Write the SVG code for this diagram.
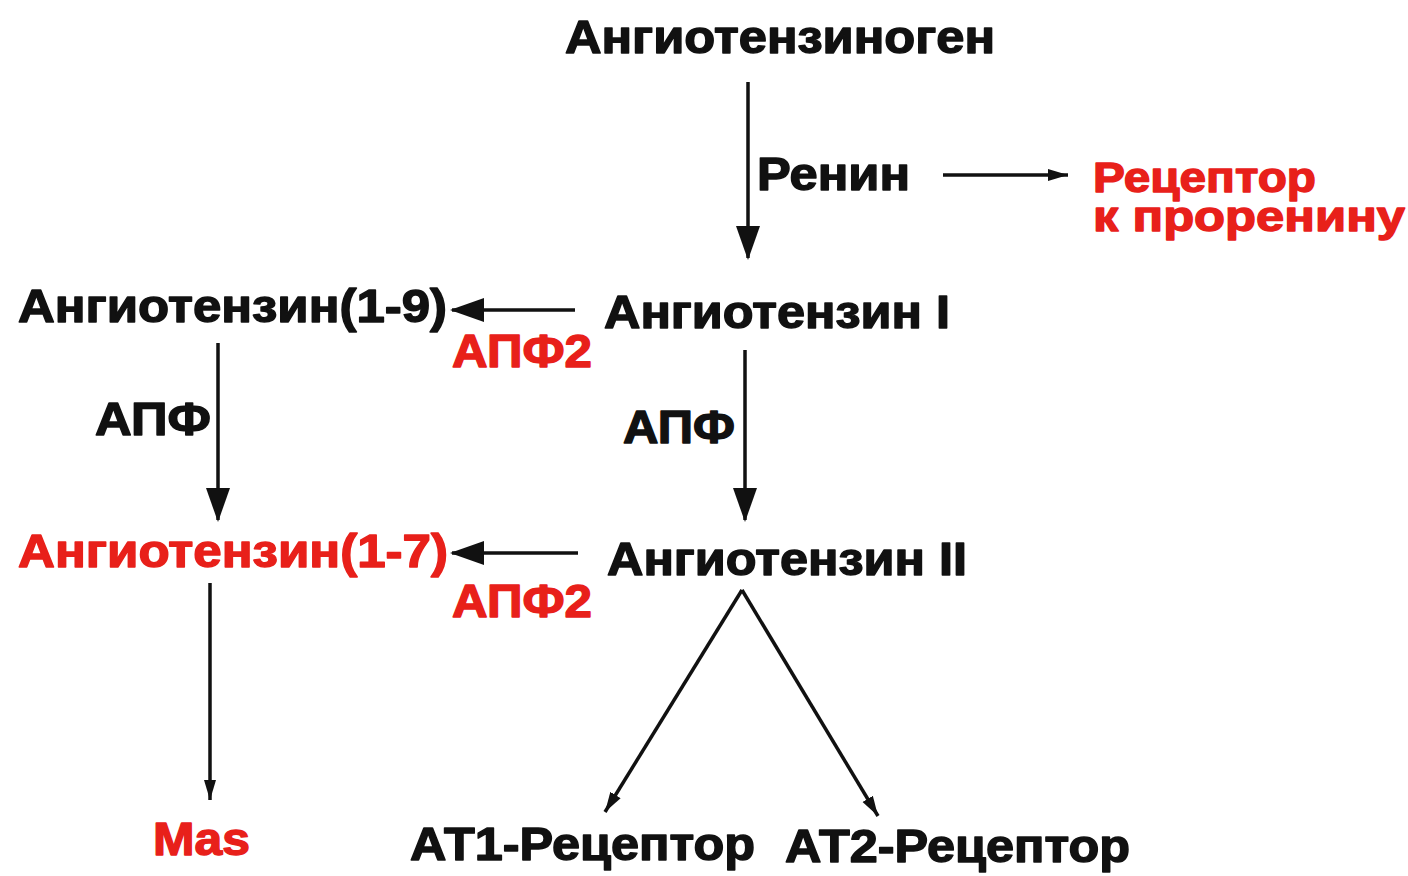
<svg xmlns="http://www.w3.org/2000/svg" width="1408" height="876" viewBox="0 0 1408 876">
<style>
text{font-family:"Liberation Sans",Arial,sans-serif;font-weight:bold;font-size:46px;stroke-width:1.4;stroke-linejoin:round}
.k{fill:#111;stroke:#111}
.r{fill:#e8201a;stroke:#e8201a}
.s{font-size:43px}
.c{stroke:#111;stroke-width:3.5;fill:none}
</style>
<defs>
<marker id="ah" markerUnits="userSpaceOnUse" markerWidth="34" markerHeight="24" viewBox="0 0 34 24" refX="32" refY="12" orient="auto">
<path d="M0,0 L34,12 L0,24 Z" fill="#111"/>
</marker>
<marker id="sm" markerUnits="userSpaceOnUse" markerWidth="20" markerHeight="16" viewBox="0 0 20 16" refX="20" refY="8" orient="auto">
<path d="M0,2 L20,8 L0,14 Z" fill="#111"/>
</marker>
</defs>
<rect width="1408" height="876" fill="#fff"/>
<g id="connectors">
<line class="c" x1="748" y1="82" x2="748" y2="258" marker-end="url(#ah)"/>
<line class="c" x1="943" y1="175" x2="1068" y2="175" marker-end="url(#sm)"/>
<line class="c" x1="575" y1="310" x2="452" y2="310" marker-end="url(#ah)"/>
<line class="c" x1="745" y1="350" x2="745" y2="520" marker-end="url(#ah)"/>
<line class="c" x1="218" y1="343" x2="218" y2="520" marker-end="url(#ah)"/>
<line class="c" x1="578" y1="553" x2="452" y2="553" marker-end="url(#ah)"/>
<line class="c" x1="210" y1="583" x2="210" y2="800" marker-end="url(#sm)"/>
<line class="c" x1="742" y1="590" x2="605" y2="812" marker-end="url(#sm)"/>
<line class="c" x1="742" y1="590" x2="878" y2="816" marker-end="url(#sm)"/>
</g>
<g id="angiotensinogen"><text class="k" x="565" y="53" textLength="430" lengthAdjust="spacingAndGlyphs">Ангиотензиноген</text></g>
<g id="renin"><text class="k" x="757" y="190" textLength="153" lengthAdjust="spacingAndGlyphs">Ренин</text></g>
<g id="prorenin-receptor">
<text class="r s" x="1093" y="192" textLength="223" lengthAdjust="spacingAndGlyphs">Рецептор</text>
<text class="r s" x="1093" y="231" textLength="312" lengthAdjust="spacingAndGlyphs">к проренину</text>
</g>
<g id="ang19"><text class="k" x="18" y="322" textLength="429" lengthAdjust="spacingAndGlyphs">Ангиотензин(1-9)</text></g>
<g id="ang1"><text class="k" x="604" y="328" textLength="346" lengthAdjust="spacingAndGlyphs">Ангиотензин I</text></g>
<g id="ace2-a"><text class="r" x="452" y="367" textLength="140" lengthAdjust="spacingAndGlyphs">АПФ2</text></g>
<g id="ace-left"><text class="k" x="95" y="435" textLength="116" lengthAdjust="spacingAndGlyphs">АПФ</text></g>
<g id="ace-mid"><text class="k" x="623" y="443" textLength="112" lengthAdjust="spacingAndGlyphs">АПФ</text></g>
<g id="ang17"><text class="r" x="18" y="567" textLength="430" lengthAdjust="spacingAndGlyphs">Ангиотензин(1-7)</text></g>
<g id="ang2"><text class="k" x="607" y="575" textLength="360" lengthAdjust="spacingAndGlyphs">Ангиотензин II</text></g>
<g id="ace2-b"><text class="r" x="452" y="617" textLength="140" lengthAdjust="spacingAndGlyphs">АПФ2</text></g>
<g id="mas"><text class="r" x="153" y="855" textLength="97" lengthAdjust="spacingAndGlyphs">Mas</text></g>
<g id="at1"><text class="k" x="410" y="860" textLength="345" lengthAdjust="spacingAndGlyphs">АТ1-Рецептор</text></g>
<g id="at2"><text class="k" x="785" y="862" textLength="345" lengthAdjust="spacingAndGlyphs">АТ2-Рецептор</text></g>
</svg>
